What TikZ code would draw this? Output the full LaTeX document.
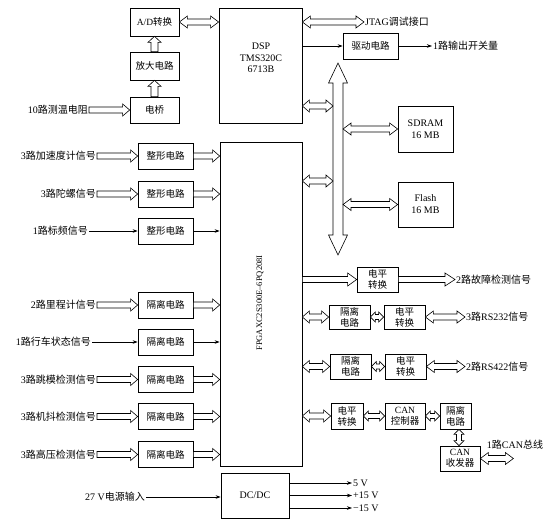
\documentclass[tikz,border=0pt]{standalone}
\usepackage{fontspec}
\setmainfont{Liberation Serif}
\newfontfamily\cjk{Noto Sans CJK SC}
\usetikzlibrary{calc,arrows.meta}
\newcommand\zh[1]{{\cjk #1}}
% hollow single arrow: half shaft width, half head width, head length, from, to
\newcommand\HArrow[5]{%
  \coordinate (hb) at ($(#5)!#3pt!(#4)$);
  \draw[harr] ($(#4)!#1pt!90:(#5)$) -- ($(hb)!#1pt!90:(#5)$) -- ($(hb)!#2pt!90:(#5)$) -- (#5)
    -- ($(hb)!#2pt!-90:(#5)$) -- ($(hb)!#1pt!-90:(#5)$) -- ($(#4)!#1pt!-90:(#5)$) -- cycle;}
% hollow double arrow
\newcommand\HDArrow[5]{%
  \coordinate (hb) at ($(#5)!#3pt!(#4)$);
  \coordinate (ha) at ($(#4)!#3pt!(#5)$);
  \draw[harr] (#4) -- ($(ha)!#2pt!90:(#5)$) -- ($(ha)!#1pt!90:(#5)$) -- ($(hb)!#1pt!90:(#5)$)
    -- ($(hb)!#2pt!90:(#5)$) -- (#5) -- ($(hb)!#2pt!-90:(#5)$) -- ($(hb)!#1pt!-90:(#5)$)
    -- ($(ha)!#1pt!-90:(#5)$) -- ($(ha)!#2pt!-90:(#5)$) -- cycle;}
\begin{document}
\begin{tikzpicture}[x=1pt,y=-1pt,
  blk/.style={draw, line width=0.7pt, inner sep=0pt, align=center, font=\fontsize{9.5}{11}\selectfont},
  lab/.style={inner sep=1pt, font=\fontsize{10}{12}\selectfont},
  harr/.style={draw, line width=0.6pt, fill=white, line join=miter},
  sarr/.style={draw, line width=0.6pt, -{Stealth[length=5pt,width=3.5pt]}}]
\useasboundingbox[fill=white] (0,0) rectangle (559,526);

% ---- DSP part
\node[blk, minimum width=49pt, minimum height=28pt] (ad) at (154.5,22) {A/D\zh{转换}};
\node[blk, minimum width=49pt, minimum height=28pt] (amp) at (154.5,66) {\zh{放大电路}};
\node[blk, minimum width=49pt, minimum height=26pt] (bridge) at (154.5,110) {\zh{电桥}};
\node[blk, minimum width=83pt, minimum height=115pt] (dsp) at (260.5,65.5) {};
\node[align=center, font=\fontsize{10}{11.5}\selectfont] (dsptxt) at (261,58) {DSP\\TMS320C\\6713B};
\node[blk, minimum width=55pt, minimum height=26pt] (drv) at (370.5,46) {\zh{驱动电路}};
\node[blk, minimum width=55pt, minimum height=46pt, font=\fontsize{10}{12}\selectfont] (sdram) at (425.5,129) {SDRAM\\16 MB};
\node[blk, minimum width=55pt, minimum height=45pt, font=\fontsize{10}{12}\selectfont] (flash) at (425.5,204.5) {Flash\\16 MB};

\node[lab, anchor=east] (l0) at (89,110) {10\zh{路测温电阻}};
\node[lab, anchor=west] (jt) at (364,22) {JTAG\zh{调试接口}};
\node[lab, anchor=west] (out) at (432,46) {1\zh{路输出开关量}};

\HArrow{3}{6}{7}{l0.east}{bridge.west}
\HArrow{3.5}{6.5}{6}{bridge.north}{amp.south}
\HArrow{3.5}{6.5}{6}{amp.north}{ad.south}
\coordinate (adD) at (dsp.west |- ad.east);
\HDArrow{3}{6}{8}{ad.east}{adD}
\coordinate (jtS) at (dsp.east |- jt.west);
\HDArrow{3}{6}{8}{jtS}{jt.west}
\coordinate (drvS) at (dsp.east |- drv.west);
\draw[sarr] (drvS) -- (drv.west);
\draw[sarr] (drv.east) -- (out.west);

% ---- bus
\coordinate (busT) at (338,63);
\coordinate (busB) at (338,255);
\HDArrow{5}{9.5}{20}{busT}{busB}
\coordinate (busL) at (333,0);
\coordinate (busR) at (343,0);
\coordinate (b1) at (busL |- 0,106);
\coordinate (d1) at (dsp.east |- b1);
\HDArrow{3}{6}{7}{d1}{b1}
\coordinate (b2) at (busR |- sdram.west);
\HDArrow{3}{6}{8}{b2}{sdram.west}

% ---- FPGA
\node[blk, minimum width=82pt, minimum height=324pt] (fpga) at (261,304) {};
\node[rotate=90, font=\fontsize{8.5}{10}\selectfont] (fpgatxt) at (260,303) {FPGAXC2S300E–6PQ208I};
\coordinate (b3) at (busL |- 0,181);
\coordinate (f0) at (fpga.east |- b3);
\HDArrow{3}{6}{7}{f0}{b3}
\coordinate (b4) at (busR |- flash.west);
\HDArrow{3}{6}{8}{b4}{flash.west}

% ---- left inputs
\node[blk, minimum width=55pt, minimum height=26pt] (sh1) at (165.5,156) {\zh{整形电路}};
\node[blk, minimum width=55pt, minimum height=26pt] (sh2) at (165.5,194) {\zh{整形电路}};
\node[blk, minimum width=55pt, minimum height=26pt] (sh3) at (165.5,231) {\zh{整形电路}};
\node[blk, minimum width=55pt, minimum height=26pt] (is1) at (165.5,305) {\zh{隔离电路}};
\node[blk, minimum width=55pt, minimum height=26pt] (is2) at (165.5,342) {\zh{隔离电路}};
\node[blk, minimum width=55pt, minimum height=26pt] (is3) at (165.5,379.5) {\zh{隔离电路}};
\node[blk, minimum width=55pt, minimum height=26pt] (is4) at (165.5,416.5) {\zh{隔离电路}};
\node[blk, minimum width=55pt, minimum height=26pt] (is5) at (165.5,454.5) {\zh{隔离电路}};

\node[lab, anchor=east] (l1) at (97,156) {3\zh{路加速度计信号}};
\node[lab, anchor=east] (l2) at (97,194) {3\zh{路陀螺信号}};
\node[lab, anchor=east] (l3) at (89,231) {1\zh{路标频信号}};
\node[lab, anchor=east] (l4) at (97,305) {2\zh{路里程计信号}};
\node[lab, anchor=east] (l5) at (92,342) {1\zh{路行车状态信号}};
\node[lab, anchor=east] (l6) at (97,379.5) {3\zh{路跳模检测信号}};
\node[lab, anchor=east] (l7) at (97,416.5) {3\zh{路机抖检测信号}};
\node[lab, anchor=east] (l8) at (97,454.5) {3\zh{路高压检测信号}};

\foreach \l/\b in {l1/sh1,l2/sh2,l4/is1,l6/is3,l7/is4,l8/is5}{
  \HArrow{3}{6}{7}{\l.east}{\b.west}
  \coordinate (ft) at (fpga.west |- \b.east);
  \HArrow{3}{6}{7}{\b.east}{ft}
}
\foreach \l/\b in {l3/sh3,l5/is2}{
  \draw[sarr] (\l.east) -- (\b.west);
  \coordinate (ft) at (fpga.west |- \b.east);
  \draw[sarr] (\b.east) -- (ft);
}

% ---- right outputs
\node[blk, minimum width=41pt, minimum height=25pt] (lv1) at (377.5,279.5) {\zh{电平}\\\zh{转换}};
\node[lab, anchor=west] (flt) at (455,279.5) {2\zh{路故障检测信号}};
\coordinate (g1) at (fpga.east |- lv1.west);
\HArrow{3}{6.5}{9}{g1}{lv1.west}
\HArrow{3}{6.5}{10}{lv1.east}{flt.west}

\node[blk, minimum width=41pt, minimum height=24pt] (is232) at (349.5,317) {\zh{隔离}\\\zh{电路}};
\node[blk, minimum width=41pt, minimum height=24pt] (lv232) at (404.5,317) {\zh{电平}\\\zh{转换}};
\node[lab, anchor=west] (r232) at (465,317) {3\zh{路}RS232\zh{信号}};
\coordinate (g2) at (fpga.east |- is232.west);
\HDArrow{3}{6}{7}{g2}{is232.west}
\HDArrow{2.5}{5}{5}{is232.east}{lv232.west}
\HDArrow{3}{6}{8}{lv232.east}{r232.west}

\node[blk, minimum width=41pt, minimum height=25pt] (is422) at (350.5,366.5) {\zh{隔离}\\\zh{电路}};
\node[blk, minimum width=41pt, minimum height=25pt] (lv422) at (405.5,366.5) {\zh{电平}\\\zh{转换}};
\node[lab, anchor=west] (r422) at (465,366.5) {2\zh{路}RS422\zh{信号}};
\coordinate (g3) at (fpga.east |- is422.west);
\HDArrow{3}{6}{7}{g3}{is422.west}
\HDArrow{2.5}{5}{5}{is422.east}{lv422.west}
\HDArrow{3}{6}{8}{lv422.east}{r422.west}

\node[blk, minimum width=32pt, minimum height=26pt] (lvcan) at (347,416) {\zh{电平}\\\zh{转换}};
\node[blk, minimum width=40pt, minimum height=26pt] (canctl) at (405,416) {CAN\\\zh{控制器}};
\node[blk, minimum width=31pt, minimum height=26pt] (iscan) at (455.5,416) {\zh{隔离}\\\zh{电路}};
\node[blk, minimum width=40pt, minimum height=25pt] (cantr) at (460,458.5) {CAN\\\zh{收发器}};
\node[lab] (canbus) at (515,445) {1\zh{路}CAN\zh{总线}};
\coordinate (g4) at (fpga.east |- lvcan.west);
\HDArrow{3}{6}{7}{g4}{lvcan.west}
\HDArrow{2.5}{5}{5}{lvcan.east}{canctl.west}
\HDArrow{2.5}{5}{5}{canctl.east}{iscan.west}
\coordinate (c1) at ([xshift=3.5pt]iscan.south);
\coordinate (c2) at (c1 |- cantr.north);
\HDArrow{2.5}{5}{5}{c1}{c2}
\coordinate (ce) at ([xshift=33pt]cantr.east);
\HDArrow{3}{6}{8}{cantr.east}{ce}

% ---- power
\node[blk, minimum width=68pt, minimum height=45pt, font=\fontsize{10}{12}\selectfont] (dcdc) at (255,495.5) {DC/DC};
\node[lab, anchor=east] (lp) at (146,497) {27 V\zh{电源输入}};
\coordinate (pin) at (dcdc.west |- lp.east);
\draw[sarr] (lp.east) -- (pin);
\node[lab, anchor=west] (v5) at (352,483) {5 V};
\node[lab, anchor=west] (v15) at (352,495.5) {+15 V};
\node[lab, anchor=west] (vm15) at (352,508) {−15 V};
\foreach \v in {v5,v15,vm15}{
  \coordinate (po) at (dcdc.east |- \v.west);
  \draw[sarr] (po) -- (\v.west);
}
\end{tikzpicture}
\end{document}
